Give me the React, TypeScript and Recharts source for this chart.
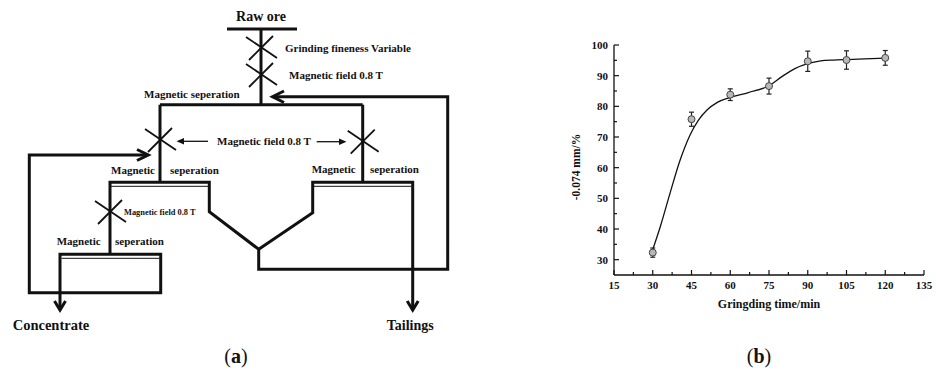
import {
  ComposedChart,
  ErrorBar,
  Line,
  Scatter,
  XAxis,
  YAxis,
} from "recharts";

// grinding time (min) vs -0.074 mm content (%)
const grindTimes = [30, 45, 60, 75, 90, 105, 120];
const fineness = [32.3, 75.8, 83.8, 86.6, 94.7, 95.1, 95.8];
const finenessErr = [1.5, 2.3, 1.9, 2.6, 3.3, 3.0, 2.4];

// fitted curve
const fitTimes = [30, 33, 36.7, 40.6, 44.4, 47.7, 51, 55, 60, 67, 75, 80, 85, 90, 95, 100, 105, 112, 120];
const fitValues = [33.3, 41, 51.7, 62.5, 70.6, 75.5, 78.8, 81.3, 82.9, 84.5, 86.7, 89.7, 92.3, 93.9, 94.8, 95.1, 95.25, 95.45, 95.7];

const xTicks = [15, 22.5, 30, 37.5, 45, 52.5, 60, 67.5, 75, 82.5, 90, 97.5, 105, 112.5, 120, 127.5, 135];
const yTicks = [30, 35, 40, 45, 50, 55, 60, 65, 70, 75, 80, 85, 90, 95, 100];

const points = grindTimes.map((x, i) => ({ x, y: fineness[i], err: finenessErr[i] }));
const fit = fitTimes.map((x, i) => ({ x, y: fitValues[i] }));

const SERIF = "'Liberation Serif', 'Times New Roman', serif";
const INK = "#111";

const YTick = (props: any) => {
  const { x, y, payload } = props;
  const major = payload.value % 10 === 0;
  return (
    <g>
      <line x1={x} x2={x + (major ? 5 : 3)} y1={y} y2={y} stroke={INK} strokeWidth={1.2} />
      {major && (
        <text x={x - 6} y={y + 4} textAnchor="end" fontFamily={SERIF} fontWeight="bold" fontSize={11} fill={INK}>
          {payload.value}
        </text>
      )}
    </g>
  );
};

const XTick = (props: any) => {
  const { x, y, payload } = props;
  const major = (payload.value - 15) % 15 === 0;
  return (
    <g>
      <line x1={x} x2={x} y1={y} y2={y - (major ? 5 : 3)} stroke={INK} strokeWidth={1.2} />
      {major && (
        <text x={x} y={y + 14} textAnchor="middle" fontFamily={SERIF} fontWeight="bold" fontSize={11} fill={INK}>
          {payload.value}
        </text>
      )}
    </g>
  );
};

const YTitle = (props: any) => {
  const { viewBox } = props;
  const cx = viewBox.x + 16;
  const cy = viewBox.y + viewBox.height / 2 + 7;
  return (
    <text
      x={cx}
      y={cy}
      transform={`rotate(-90, ${cx}, ${cy})`}
      textAnchor="middle"
      fontFamily={SERIF}
      fontWeight="bold"
      fontSize={11.5}
      fill={INK}
    >
      -0.074 mm/%
    </text>
  );
};

const XTitle = (props: any) => {
  const { viewBox } = props;
  return (
    <text
      x={viewBox.x + viewBox.width / 2}
      y={viewBox.y + 33}
      textAnchor="middle"
      fontFamily={SERIF}
      fontWeight="bold"
      fontSize={12}
      fill={INK}
    >
      Gringding time/min
    </text>
  );
};

const Dot = (props: any) => (
  <circle cx={props.cx} cy={props.cy} r={3.5} fill="#b8b8b8" stroke="#444" strokeWidth={1} />
);

// flowsheet helpers
const Cross = ({ cx, cy, s = 1 }: { cx: number; cy: number; s?: number }) => (
  <g stroke={INK} strokeWidth={1.8}>
    <line x1={cx - 15 * s} y1={cy - 11 * s} x2={cx + 16 * s} y2={cy + 10 * s} />
    <line x1={cx + 12 * s} y1={cy - 12 * s} x2={cx - 12 * s} y2={cy + 12 * s} />
  </g>
);

const txt = { fontFamily: SERIF, fontWeight: "bold" as const, fill: INK };

function Flowsheet() {
  return (
    <svg width={936} height={374} style={{ position: "absolute", left: 0, top: 0 }}>
      <g stroke={INK} strokeWidth={3} fill="none" strokeLinejoin="miter">
        <path d="M227 29 H297" />
        <path d="M261 29 V104.7" />
        <path d="M160 104.7 H362.7" />
        <path d="M160 104.7 V182.3" />
        <path d="M362.7 104.7 V182.3" />
        <path d="M110 254.3 V182.3 H209.3 V211.7 L258.7 249.3 V269.3 H447.7 V96.7 H273" />
        <path d="M412.7 309 V182.3 H312.7 V212.7 L258.7 249.3" />
        <path d="M60 309 V254.3 H160.7 V292.7 H29.3 V155 H147" />
        {/* arrow heads */}
        <path d="M284 91 L272.5 96.7 L284 102.5" />
        <path d="M137 149.5 L148.3 155 L137 160.5" />
        <path d="M54.5 301 L60 310 L65.5 301" />
        <path d="M407.2 301 L412.7 310 L418.2 301" />
      </g>
      <g stroke={INK} strokeWidth={1}>
        <line x1={111} x2={208} y1={186.3} y2={186.3} />
        <line x1={314} x2={411.5} y1={186.3} y2={186.3} />
        <line x1={61.5} x2={159.5} y1={258.3} y2={258.3} />
      </g>
      <Cross cx={261} cy={48} />
      <Cross cx={261} cy={75} />
      <Cross cx={160} cy={140} />
      <Cross cx={362.7} cy={141.7} />
      <Cross cx={110} cy={212} />
      {/* field pointers */}
      <g stroke={INK} strokeWidth={1.3}>
        <line x1={208} x2={182} y1={141.3} y2={141.3} />
        <line x1={316.7} x2={341} y1={141.7} y2={141.7} />
      </g>
      <path d="M176.5 141.3 L184 138 L184 144.6 Z" fill={INK} />
      <path d="M346.5 141.7 L339 138.4 L339 145 Z" fill={INK} />

      <text x={261} y={21} textAnchor="middle" fontSize={14} {...txt}>Raw ore</text>
      <text x={285} y={52} fontSize={11} {...txt}>Grinding fineness Variable</text>
      <text x={289} y={79} fontSize={11} {...txt}>Magnetic field 0.8 T</text>
      <text x={144} y={98} fontSize={11} {...txt}>Magnetic seperation</text>
      <text x={217} y={144.5} fontSize={11} {...txt}>Magnetic field 0.8 T</text>
      <text x={111} y={174} fontSize={11} {...txt}>Magnetic</text>
      <text x={170} y={174} fontSize={11} {...txt}>seperation</text>
      <text x={311.7} y={172.5} fontSize={11} {...txt}>Magnetic</text>
      <text x={370} y={172.5} fontSize={11} {...txt}>seperation</text>
      <text x={124} y={214.5} fontSize={8.4} {...txt}>Magnetic field 0.8 T</text>
      <text x={56.7} y={245} fontSize={11} {...txt}>Magnetic</text>
      <text x={115} y={245} fontSize={11} {...txt}>seperation</text>
      <text x={12.7} y={330} fontSize={14.5} {...txt}>Concentrate</text>
      <text x={386.7} y={330} fontSize={14} {...txt}>Tailings</text>

      <text x={236} y={363} textAnchor="middle" fontSize={20} fontFamily={SERIF} fill={INK}>
        (<tspan fontWeight="bold">a</tspan>)
      </text>
      <text x={759} y={363} textAnchor="middle" fontSize={20} fontFamily={SERIF} fill={INK}>
        (<tspan fontWeight="bold">b</tspan>)
      </text>
    </svg>
  );
}

export default function App() {
  return (
    <div style={{ position: "absolute", left: 0, top: 0, width: 936, height: 374, background: "#fff" }}>
      <Flowsheet />
      <div style={{ position: "absolute", left: 520, top: 0 }}>
        <ComposedChart width={416} height={374} margin={{ top: 45, right: 12, bottom: 69, left: 44 }}>
          <XAxis
            type="number"
            dataKey="x"
            domain={[15, 135]}
            ticks={xTicks}
            interval={0}
            tickSize={0}
            tickMargin={0}
            tickLine={false}
            tick={<XTick />}
            height={30}
            stroke={INK}
            strokeWidth={1.3}
            label={<XTitle />}
          />
          <YAxis
            type="number"
            domain={[25, 100]}
            ticks={yTicks}
            interval={0}
            tickSize={0}
            tickMargin={0}
            tickLine={false}
            tick={<YTick />}
            width={50}
            stroke={INK}
            strokeWidth={1.3}
            label={<YTitle />}
          />
          <Line
            data={fit}
            dataKey="y"
            type="monotone"
            stroke={INK}
            strokeWidth={1.3}
            dot={false}
            activeDot={false}
            isAnimationActive={false}
          />
          <Scatter data={points} dataKey="y" shape={<Dot />} isAnimationActive={false}>
            <ErrorBar dataKey="err" direction="y" width={2.5} stroke="#222" strokeWidth={1.2} isAnimationActive={false} />
          </Scatter>
        </ComposedChart>
      </div>
    </div>
  );
}
